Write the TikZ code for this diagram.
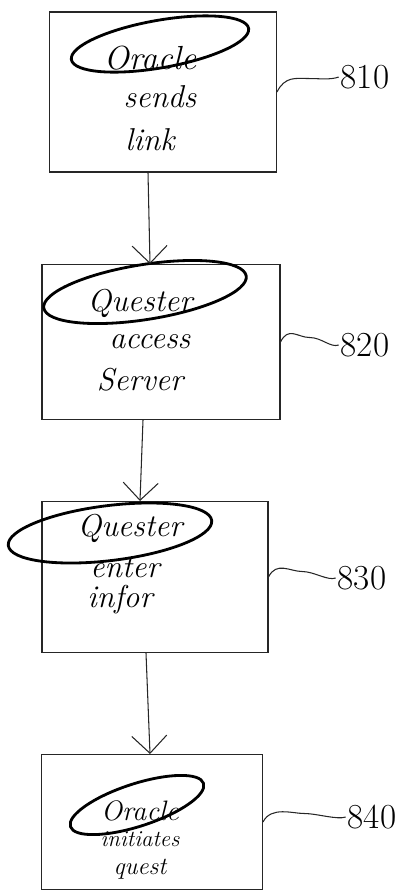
\documentclass[tikz,border=0pt]{standalone}
\usetikzlibrary{shapes.geometric,arrows.meta,calc}
\begin{document}
\begin{tikzpicture}[
    x=0.02cm, y=-0.02cm,
    stepbox/.style={rectangle, draw=black!85, line width=0.6pt, inner sep=0pt},
    loop/.style={ellipse, draw=black, line width=1.6pt, inner sep=0pt},
    word/.style={inner sep=0.5pt},
    refnum/.style={font=\fontsize{20}{24}\selectfont, inner sep=1pt},
    flow/.style={draw=black!85, line width=0.6pt, -{Straight Barb[length=3.5mm,width=7mm]}},
    lead/.style={draw=black!85, line width=0.6pt}
]
\useasboundingbox (0,0) rectangle (419,894);

\foreach \n/\cx/\cy/\w/\h/\lx/\ly/\num in {1/163/92/4.54/3.2/365/77/810,
    2/161/342/4.76/3.1/365/345/820, 3/155/577/4.52/3.02/362/578/830,
    4/152/822/4.42/2.7/372/817/840}{
    \node[stepbox, minimum width=\w cm, minimum height=\h cm] (box\n) at (\cx,\cy) {};
    \node[refnum] (ref\n) at (\lx,\ly) {\num};
    \draw[lead] (box\n.east) .. controls +(8,-16) and +(-12,0) ..
        ($(box\n.east)!0.5!(ref\n.west)+(0,-6)$) .. controls +(12,0) and +(-8,3) .. (ref\n.west);
}

\node[loop, minimum width=3.6cm, minimum height=0.95cm, rotate=10] (ring1) at (160,44) {};
\node[loop, minimum width=4.1cm, minimum height=1.1cm, rotate=9] (ring2) at (145,292) {};
\node[loop, minimum width=4.1cm, minimum height=1.1cm, rotate=7] (ring3) at (110,533) {};
\node[loop, minimum width=2.8cm, minimum height=0.85cm, rotate=18] (ring4) at (137,805) {};

\foreach \t/\x/\y/\s [count=\i] in {Oracle/150/58/19, sends/160/97/18, link/150/140/18,
    Quester/140/303/18, access/150/342/18, Server/140/380/18,
    Quester/130/528/18, enter/125/568/18, infor/120/600/18,
    Oracle/140/811/16, initiates/140/839/13, quest/140/869/14}
    \node[word, font=\itshape\fontsize{\s}{\s}\selectfont] (w\i) at (\x,\y) {\t};

\foreach \a/\b/\xa/\xb in {1/2/148/150, 2/3/143/140, 3/4/146/150}
    \draw[flow] (box\a.south -| \xa,0) -- (box\b.north -| \xb,0);

\end{tikzpicture}
\end{document}
